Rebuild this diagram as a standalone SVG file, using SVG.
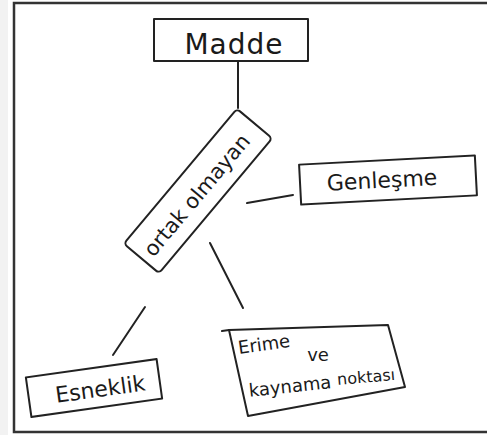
<svg xmlns="http://www.w3.org/2000/svg" width="487" height="435" viewBox="0 0 487 435">
<style>
.box{fill:none;stroke:#222;stroke-width:2;stroke-linejoin:round}
.ln{fill:none;stroke:#222;stroke-width:2;stroke-linecap:round}
.t{font-family:"DejaVu Sans","Liberation Sans",sans-serif;fill:#1a1a1a;text-anchor:middle;dominant-baseline:central}
</style>
<rect width="487" height="435" fill="#fff"/>
<rect x="0" y="0" width="8" height="435" fill="#f2f2f2"/>
<path d="M490 3 H14 V432 H490" fill="none" stroke="#333" stroke-width="2.5"/>
<g id="connectors">
<line class="ln" x1="238" y1="61" x2="238" y2="108"/>
<line class="ln" x1="247" y1="203" x2="293" y2="195" stroke-width="1.5"/>
<line class="ln" x1="210" y1="243" x2="243" y2="308"/>
<line class="ln" x1="145" y1="307" x2="113" y2="355"/>
</g>
<g id="madde">
<rect class="box" x="154" y="19" width="154" height="42"/>
<text class="t" x="234" y="44" font-size="28" letter-spacing="1">Madde</text>
</g>
<g id="ortak" transform="translate(198,191) rotate(-50)">
<rect class="box" x="-88" y="-23" width="176" height="46" rx="4"/>
<text class="t" x="-4" y="2" font-size="21">ortak olmayan</text>
</g>
<g id="genlesme" transform="translate(388,180) rotate(-3)">
<rect class="box" x="-88" y="-20" width="176" height="40"/>
<text class="t" x="-6" y="0" font-size="22">Genleşme</text>
</g>
<g id="esneklik" transform="translate(94,388) rotate(-8)">
<rect class="box" x="-66" y="-20" width="132" height="40"/>
<text class="t" x="6" y="2" font-size="22">Esneklik</text>
</g>
<g id="erime">
<polygon class="box" points="229,330 388,325 405,387 248,416"/>
<line class="ln" x1="222" y1="331" x2="229" y2="330"/>
<text class="t" x="264" y="344" font-size="18" transform="rotate(-8 264 344)">Erime</text>
<text class="t" x="318" y="354" font-size="18">ve</text>
<text class="t" x="290" y="386" font-size="18" transform="rotate(-6 290 386)">kaynama</text>
<text class="t" x="366" y="377" font-size="16" transform="rotate(-5 366 377)">noktası</text>
</g>
</svg>
